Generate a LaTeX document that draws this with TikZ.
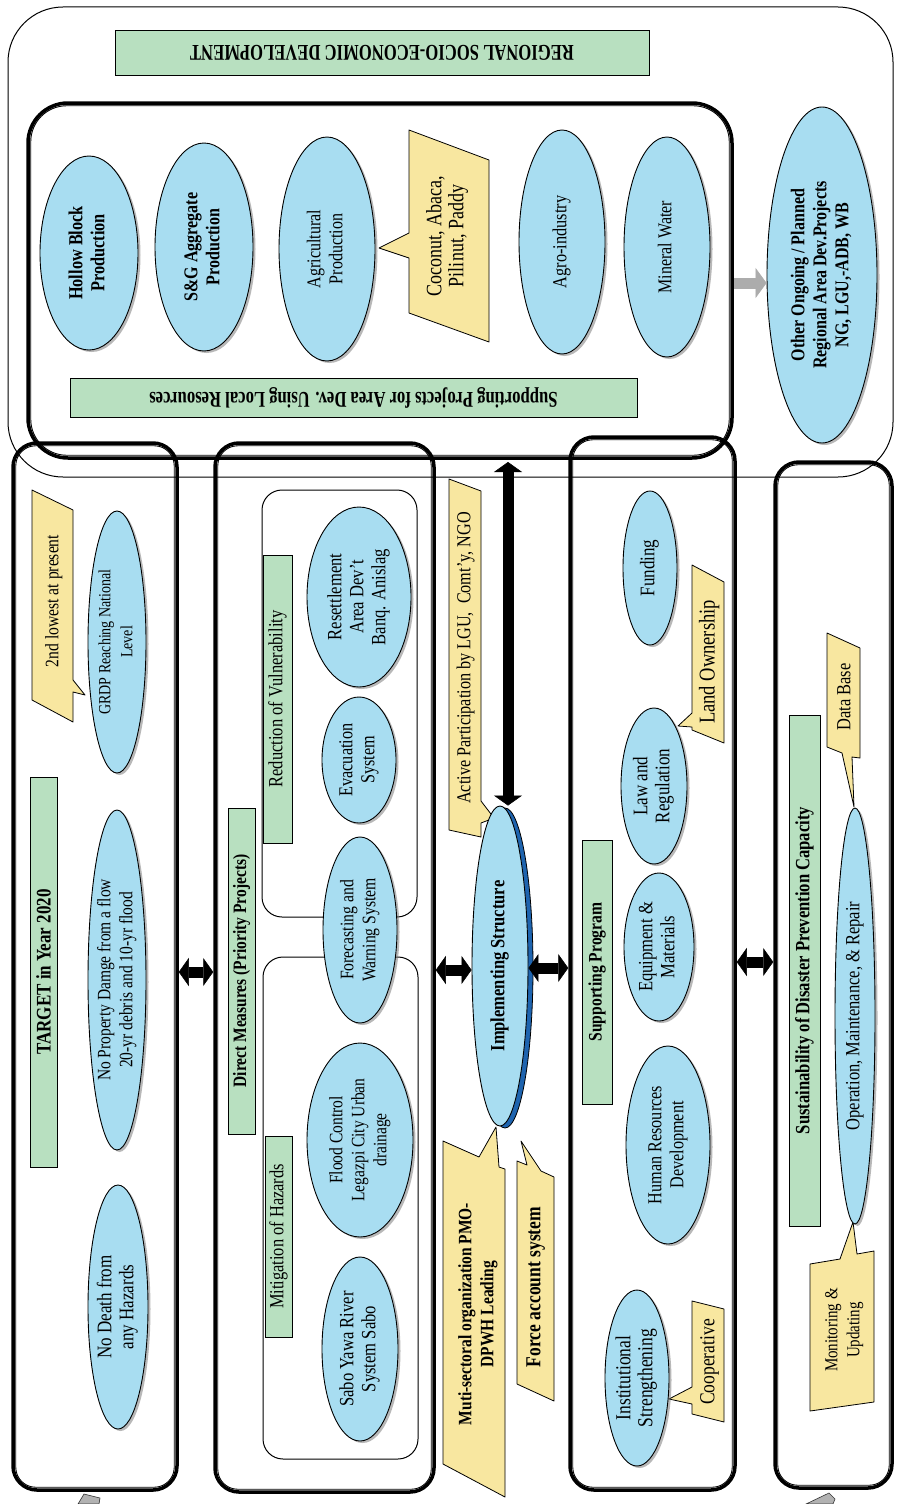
\documentclass[tikz,border=0pt]{standalone}
\usepackage{fontspec}
\usepackage{graphicx}
\setmainfont{Liberation Serif}[FakeStretch=0.82]
\newfontfamily\hfont{Liberation Serif}[FakeStretch=0.74]
\usetikzlibrary{shapes.geometric,arrows.meta,shadows}
\definecolor{ellblue}{RGB}{168,221,241}
\definecolor{boxgreen}{RGB}{184,224,192}
\definecolor{calyellow}{RGB}{248,231,160}
\definecolor{rimblue}{RGB}{30,100,175}
\newcommand{\fs}[1]{\fontsize{\fpeval{#1*1.22}}{22}\selectfont}
\newcommand{\rt}[1]{\makebox[0pt]{\raisebox{-.5\height}[0pt][0pt]{\rotatebox{90}{\begin{tabular}{@{}c@{}}#1\end{tabular}}}}}
\tikzset{
  ell/.style={ellipse, draw=black, line width=0.9pt, fill=ellblue, inner sep=0pt,
    drop shadow={shadow xshift=2.5pt, shadow yshift=-2pt, fill=black!55}},
  gbox/.style={rectangle, draw=black, line width=0.8pt, fill=boxgreen, inner sep=0pt},
  callout/.style={draw=black, line width=0.8pt, fill=calyellow, line join=round},
  txt/.style={inner sep=0pt},
  thinbox/.style={rectangle, rounded corners=55pt, draw=black, line width=1pt, inner sep=0pt},
  thickbox/.style={rectangle, rounded corners=24pt, draw=black, line width=3.5pt, inner sep=0pt},
  innerline/.style={draw=black, line width=0.9pt, rounded corners=20pt},
  subbox/.style={rectangle, rounded corners=20pt, draw=black, line width=1pt, inner sep=0pt},
  dbl/.style={line width=11pt, {Triangle[width=28pt,length=10pt,line width=0.5pt]}-{Triangle[width=28pt,length=10pt,line width=0.5pt]}},
  grayarrow/.style={line width=11pt, draw=gray!65, -{Triangle[width=30pt,length=11pt,line width=0.5pt]}},
}
\begin{document}
\begin{tikzpicture}[x=1pt,y=-1pt]
\useasboundingbox (0,0) rectangle (897,1504);
\fill[white] (0,0) rectangle (897,1504);

% ---------- containers ----------
\node[thinbox, minimum width=885pt, minimum height=470pt] (reg) at (450.5,242) {};
\node[thickbox, rounded corners=40pt, minimum width=704pt, minimum height=355pt] (sp) at (380,280.5) {};
\draw[innerline, rounded corners=36pt] ([shift={(4.5,4.5)}]sp.north west) rectangle ([shift={(-4.5,-4.5)}]sp.south east);
\node[thickbox, minimum width=164pt, minimum height=1047pt] (c1) at (95,966.5) {};
\node[thickbox, minimum width=219pt, minimum height=1049pt] (c2) at (324.5,967.5) {};
\node[thickbox, minimum width=165pt, minimum height=1053pt] (c3) at (652.5,963.5) {};
\node[thickbox, minimum width=117pt, minimum height=1026pt] (c4) at (833.5,975) {};
\foreach \n in {c1,c2,c3,c4}
  \draw[innerline] ([shift={(4.5,4.5)}]\n.north west) rectangle ([shift={(-4.5,-4.5)}]\n.south east);
\node[subbox, minimum width=155pt, minimum height=427pt] (subR) at (339.5,703.5) {};
\node[subbox, minimum width=155pt, minimum height=502pt] (subM) at (340.5,1208) {};

% bottom grey fragments
\filldraw[fill=gray!60, draw=gray!40!black, line width=0.6pt] (78,1504) -- (84,1494) -- (100,1498) -- (99,1504) -- cycle;
\filldraw[fill=gray!60, draw=gray!40!black, line width=0.6pt] (806,1504) -- (829,1493) -- (835,1499) -- (833,1504) -- cycle;

% ---------- green title boxes ----------
\node[gbox, rotate=180, minimum width=534pt, minimum height=45pt, font=\hfont\bfseries\fontsize{22.5}{26}\selectfont] (title) at (382,52.5) {REGIONAL SOCIO-ECONOMIC DEVELOPMENT};
\node[gbox, rotate=180, minimum width=567pt, minimum height=39pt, font=\hfont\bfseries\fontsize{22.5}{26}\selectfont] (spt) at (353.5,397.5) {Supporting Projects for Area Dev. Using Local Resources};
\node[gbox, rotate=90, minimum width=390pt, minimum height=27pt, font=\bfseries\fs{17}] (tgt) at (43.5,972) {TARGET in Year 2020};
\node[gbox, rotate=90, minimum width=326pt, minimum height=27pt, font=\bfseries\fs{15.5}] (dm) at (241.5,971) {Direct Measures (Priority Projects)};
\node[gbox, rotate=90, minimum width=288pt, minimum height=29pt, font=\fs{16.5}] (rv) at (277.5,699) {Reduction of Vulnerability};
\node[gbox, rotate=90, minimum width=201pt, minimum height=27pt, font=\fs{16.4}] (mh) at (278.5,1236.5) {Mitigation of Hazards};
\node[gbox, rotate=90, minimum width=264pt, minimum height=30pt, font=\bfseries\fs{15.6}] (spg) at (597,972) {Supporting Program};
\node[gbox, rotate=90, minimum width=511pt, minimum height=31pt, font=\bfseries\fs{16.6}] (sus) at (804.5,970.5) {Sustainability of Disaster Prevention Capacity};

% ---------- yellow callouts ----------
\draw[callout] (409,130) -- (489,160) -- (489,342) -- (409,313) -- (409,258) -- (379,248) -- (409,233) -- cycle;
\node[txt, font=\fs{18}] (tcoc) at (448,236) {\rt{Coconut, Abaca,\\Pilinut, Paddy}};
\draw[callout] (32,490) -- (73,510) -- (73,680) -- (85,695) -- (73,692) -- (73,722) -- (32,700) -- cycle;
\node[txt, font=\fs{15.6}] (t2nd) at (54,601) {\rt{2nd lowest at present}};
\draw[callout] (449,479) -- (481,491) -- (481,801) -- (494,818) -- (481,823) -- (481,837) -- (449,830) -- cycle;
\node[txt, font=\fs{16.2}] (tact) at (466,658) {\rt{Active Participation by LGU,\ \ Comt'y, NGO}};
\draw[callout] (443,1141) -- (479,1157) -- (496,1127) -- (499,1167) -- (505,1169) -- (505,1497) -- (443,1464) -- cycle;
\node[txt, font=\bfseries\fs{15.5}] (tmuti) at (478,1314) {\rt{Muti-sectoral organization PMO-\\DPWH Leading}};
\draw[callout] (517,1161) -- (527,1165) -- (521,1141) -- (541,1171) -- (554,1177) -- (554,1401) -- (517,1384) -- cycle;
\node[txt, font=\bfseries\fs{17.5}] (tforce) at (536,1287) {\rt{Force account system}};
\draw[callout] (692,565) -- (724,582) -- (724,743) -- (692,730) -- (692,727) -- (678,726) -- (692,713) -- cycle;
\node[txt, font=\fs{18.5}] (tland) at (710,662) {\rt{Land Ownership}};
\draw[callout] (692,1301) -- (724,1309) -- (724,1422) -- (692,1414) -- (692,1404) -- (669,1399) -- (692,1387) -- cycle;
\node[txt, font=\fs{17.5}] (tcoop) at (710,1362) {\rt{Cooperative}};
\draw[callout] (827,633) -- (860,648) -- (860,758) -- (852,757) -- (854,807) -- (842,753) -- (827,747) -- cycle;
\node[txt, font=\fs{16.4}] (tdb) at (846,697) {\rt{Data Base}};
\draw[callout] (810,1264) -- (840,1259) -- (853,1222) -- (857,1254) -- (874,1251) -- (874,1402) -- (810,1411) -- cycle;
\node[txt, font=\fs{15}] (tmon) at (844,1330) {\rt{Monitoring \&\\Updating}};

% ---------- ellipses ----------
\node[ell, minimum width=98pt, minimum height=194pt, font=\bfseries\fs{16.3}] (hb) at (89,253) {\rt{Hollow Block\\Production}};
\node[ell, minimum width=98pt, minimum height=208pt, font=\bfseries\fs{16}] (sg) at (204,247) {\rt{S\&G Aggregate\\Production}};
\node[ell, minimum width=96pt, minimum height=224pt, font=\fs{16}] (ag) at (327,249) {\rt{Agricultural\\Production}};
\node[ell, minimum width=86pt, minimum height=224pt, font=\fs{16.3}] (ai) at (562,242) {\rt{Agro-industry}};
\node[ell, minimum width=86pt, minimum height=220pt, font=\fs{16}] (mw) at (667,247) {\rt{Mineral Water}};
\node[ell, minimum width=110pt, minimum height=336pt, font=\bfseries\fs{16}] (oth) at (822,275) {\rt{Other Ongoing / Planned\\Regional Area Dev.Projects\\NG, LGU,-ADB, WB}};

\node[ell, minimum width=58pt, minimum height=262pt, font=\fs{14}] (grdp) at (117,642) {\rt{GRDP Reaching National\\Level}};
\node[ell, minimum width=58pt, minimum height=340pt, font=\fs{15.5}] (npd) at (117,980) {\rt{No Property Damge from a flow\\20-yr debris and 10-yr flood}};
\node[ell, minimum width=60pt, minimum height=244pt, font=\fs{17}] (nd) at (118,1307) {\rt{No Death from\\any Hazards}};

\node[ell, minimum width=104pt, minimum height=180pt, font=\fs{16.6}] (res) at (359,597) {\rt{Resettlement\\Area Dev't\\Banq. Anislag}};
\node[ell, minimum width=74pt, minimum height=126pt, font=\fs{16.2}] (eva) at (359,760) {\rt{Evacuation\\System}};
\node[ell, minimum width=74pt, minimum height=186pt, font=\fs{15.7}] (fw) at (360,930) {\rt{Forecasting and\\Warning System}};
\node[ell, minimum width=106pt, minimum height=194pt, font=\fs{15.5}] (fc) at (360,1140) {\rt{Flood Control\\Legazpi City Urban\\drainage}};
\node[ell, minimum width=76pt, minimum height=184pt, font=\fs{16.6}] (sabo) at (360,1349) {\rt{Sabo Yawa River\\System Sabo}};

\fill[rimblue, draw=black, line width=0.8pt] (505,968) ellipse [x radius=28, y radius=160];
\node[ellipse, draw=black, line width=0.9pt, fill=ellblue, inner sep=0pt, minimum width=56pt, minimum height=320pt, font=\bfseries\fs{16.5}] (imp) at (500,966) {\rt{Implementing Structure}};

\node[ell, minimum width=54pt, minimum height=154pt, font=\fs{17}] (fund) at (650,568) {\rt{Funding}};
\node[ell, minimum width=66pt, minimum height=156pt, font=\fs{17}] (law) at (654,786) {\rt{Law and\\Regulation}};
\node[ell, minimum width=70pt, minimum height=148pt, font=\fs{16.6}] (eq) at (659,947) {\rt{Equipment \&\\Materials}};
\node[ell, minimum width=84pt, minimum height=198pt, font=\fs{16.2}] (hr) at (668,1145) {\rt{Human Resources\\Development}};
\node[ell, minimum width=64pt, minimum height=176pt, font=\fs{17.5}] (ins) at (637,1378) {\rt{Institutional\\Strengthening}};
\node[ell, minimum width=40pt, minimum height=416pt, font=\fs{16.5}] (om) at (855,1016) {\rt{Operation, Maintenance, \& Repair}};

% ---------- connectors ----------
\coordinate (r1) at (0,972);
\coordinate (r2) at (0,970);
\coordinate (r3) at (0,968);
\coordinate (r4) at (0,962);
\coordinate (g) at (0,283);
\coordinate (vtop) at (508,462);
\draw[dbl] (c1.east |- r1) -- (c2.west |- r1);
\draw[dbl] (c2.east |- r2) -- (imp.west |- r2);
\draw[dbl] (imp.east |- r3) -- (c3.west |- r3);
\draw[dbl] (c3.east |- r4) -- (c4.west |- r4);
\draw[dbl] (vtop) -- (vtop |- imp.north);
\draw[grayarrow] (sp.east |- g) -- (oth.west |- g);
\end{tikzpicture}
\end{document}
